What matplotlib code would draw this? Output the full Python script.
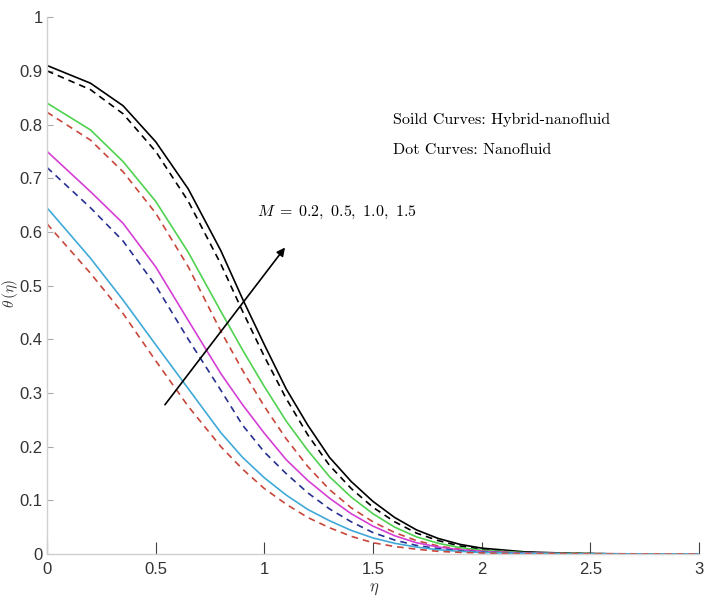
import matplotlib
matplotlib.use('Agg')
import matplotlib.pyplot as plt

plt.rcParams['mathtext.fontset'] = 'cm'
plt.rcParams['font.family'] = ['Liberation Sans Narrow', 'Liberation Sans', 'DejaVu Sans']

# eta grid shared by all curves
eta = [0, 0.2, 0.35, 0.5, 0.65, 0.8, 0.9, 1.0, 1.1, 1.2, 1.3, 1.4, 1.5,
       1.6, 1.7, 1.8, 1.9, 2.0, 2.2, 2.4, 2.6, 3.0]

# solid curves: hybrid nanofluid
hyb_k = [0.910, 0.877, 0.835, 0.768, 0.680, 0.565, 0.475, 0.390, 0.308, 0.240, 0.180,
         0.135, 0.098, 0.068, 0.045, 0.029, 0.018, 0.011, 0.004, 0.0015, 0.0005, 0.0]
hyb_g = [0.840, 0.790, 0.731, 0.657, 0.562, 0.452, 0.380, 0.312, 0.248, 0.193, 0.144,
         0.106, 0.075, 0.050, 0.032, 0.020, 0.012, 0.007, 0.0025, 0.001, 0.0003, 0.0]
hyb_m = [0.750, 0.675, 0.616, 0.535, 0.435, 0.336, 0.278, 0.225, 0.176, 0.137, 0.104,
         0.075, 0.052, 0.034, 0.021, 0.013, 0.008, 0.005, 0.0015, 0.0005, 0.0002, 0.0]
hyb_c = [0.645, 0.551, 0.473, 0.390, 0.308, 0.226, 0.180, 0.142, 0.110, 0.083, 0.062,
         0.044, 0.030, 0.020, 0.013, 0.008, 0.005, 0.003, 0.001, 0.0003, 0.0001, 0.0]

# dashed curves: nanofluid
nf_k = [0.900, 0.865, 0.820, 0.750, 0.657, 0.540, 0.452, 0.368, 0.290, 0.222, 0.165,
        0.122, 0.087, 0.060, 0.039, 0.025, 0.015, 0.009, 0.003, 0.001, 0.0004, 0.0]
nf_r1 = [0.823, 0.771, 0.712, 0.635, 0.535, 0.415, 0.342, 0.275, 0.215, 0.163, 0.120,
         0.086, 0.060, 0.040, 0.025, 0.015, 0.009, 0.005, 0.0018, 0.0006, 0.0002, 0.0]
nf_b = [0.720, 0.645, 0.583, 0.500, 0.400, 0.305, 0.240, 0.190, 0.150, 0.114, 0.084,
        0.060, 0.040, 0.026, 0.016, 0.010, 0.006, 0.0035, 0.001, 0.0004, 0.0001, 0.0]
nf_r2 = [0.615, 0.523, 0.448, 0.360, 0.275, 0.200, 0.158, 0.122, 0.093, 0.068, 0.049,
         0.033, 0.021, 0.014, 0.009, 0.005, 0.003, 0.002, 0.0006, 0.0002, 0.0001, 0.0]

xticks = [0, 0.5, 1, 1.5, 2, 2.5, 3]
xticklabels = ['0', '0.5', '1', '1.5', '2', '2.5', '3']
yticks = [0, 0.1, 0.2, 0.3, 0.4, 0.5, 0.6, 0.7, 0.8, 0.9, 1]
yticklabels = ['0', '0.1', '0.2', '0.3', '0.4', '0.5', '0.6', '0.7', '0.8', '0.9', '1']

fig = plt.figure(figsize=(7.06, 6.13), dpi=100)
ax = fig.add_axes([0.0666, 0.0962, 0.9234, 0.8758])

lw = 1.2
dash = (4, 3)
ax.plot(eta, hyb_k, color='black', lw=lw)
ax.plot(eta, nf_k, color='black', lw=lw, dashes=dash)
ax.plot(eta, hyb_g, color='#4fd24f', lw=lw)
ax.plot(eta, nf_r1, color='#c8463a', lw=lw, dashes=dash)
ax.plot(eta, hyb_m, color='#d43fd4', lw=lw)
ax.plot(eta, nf_b, color='#26308f', lw=lw, dashes=dash)
ax.plot(eta, hyb_c, color='#3fa9d8', lw=lw)
ax.plot(eta, nf_r2, color='#c8463a', lw=lw, dashes=dash)

ax.annotate('', xy=(1.103, 0.575), xytext=(0.535, 0.274),
            arrowprops=dict(arrowstyle='-|>', color='black', lw=1.2, mutation_scale=12))
ax.text(0.967, 0.637, r'$M\;=\;0.2,\ 0.5,\ 1.0,\ 1.5$', fontsize=11.5, va='center', ha='left')
ax.text(1.592, 0.808, 'Soild Curves: Hybrid-nanofluid', family='cmr10', fontsize=11.5,
        va='center', ha='left')
ax.text(1.592, 0.752, 'Dot Curves: Nanofluid', family='cmr10', fontsize=11.5,
        va='center', ha='left')

ax.set_xlim(0, 3)
ax.set_ylim(0, 1)
ax.set_xticks(xticks)
ax.set_xticklabels(xticklabels)
ax.set_yticks(yticks)
ax.set_yticklabels(yticklabels)

for s in ['top', 'right']:
    ax.spines[s].set_visible(False)
for s in ['left', 'bottom']:
    ax.spines[s].set_color('#d0d0d0')
    ax.spines[s].set_linewidth(1.0)

ax.tick_params(axis='x', direction='in', length=8.5, width=0.8, color='#404040',
               pad=6, labelsize=12, labelcolor='#333333')
ax.tick_params(axis='y', direction='in', length=4, width=0.8, color='#aaaaaa',
               pad=3, labelsize=12, labelcolor='#333333')

ax.set_xlabel(r'$\eta$', fontsize=12, color='#333333')
ax.set_ylabel(r'$\theta\,(\eta)$', fontsize=11, color='#333333')
ax.xaxis.set_label_coords(0.5015, -0.052)
ax.yaxis.set_label_coords(-0.042, 0.486)

fig.savefig('out.png', dpi=100)
